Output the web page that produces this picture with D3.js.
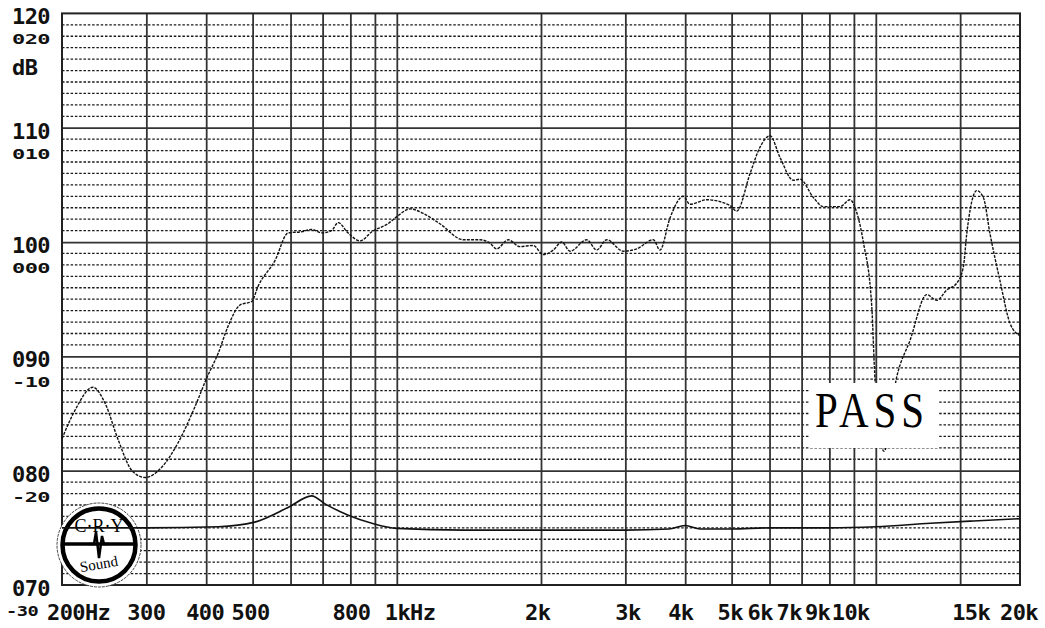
<!DOCTYPE html>
<html>
<head>
<meta charset="utf-8">
<title>Frequency Response</title>
<script src="https://cdn.jsdelivr.net/npm/d3@7"></script>
<style>
  body { margin: 0; background: #fff; }
  svg { display: block; }
  .lbl { font-family: "DejaVu Sans Mono", monospace; font-weight: bold; font-size: 22px; letter-spacing: -0.6px; fill: #111; }
  .grid line { stroke: #333; }
  .grid path { display: none; }
</style>
</head>
<body>
<svg id="chart" width="1045" height="628"></svg>
<script>
// response curve (Hz, dB)
const respFreq = [200, 213, 232, 246, 262, 280, 298, 323, 349, 379, 401, 424, 444, 471, 498, 513, 557, 593,
  633, 664, 697, 731, 754, 791, 838, 887, 958, 999, 1066, 1136, 1230, 1377, 1492, 1565, 1616, 1709, 1808,
  1927, 2022, 2122, 2210, 2300, 2492, 2614, 2744, 2970, 3168, 3432, 3544, 3718, 3964, 4094, 4436, 4960,
  5124, 5464, 5732, 6014, 6310, 6726, 6946, 7406, 7770, 8420, 8834, 9122, 9418, 9806, 9964, 10400, 11058,
  11788, 12776, 13400, 14062, 14756, 15230, 15480, 16244, 16768, 17318, 18168, 19060, 20000];
const respDb = [82.8, 85.3, 87.3, 85.9, 82.7, 80.0, 79.4, 80.3, 82.4, 85.6, 88.1, 90.3, 92.6, 94.5, 94.8, 96.1,
  98.4, 100.8, 100.9, 101.1, 100.8, 101.0, 101.7, 100.8, 100.1, 100.9, 101.6, 102.2, 102.9, 102.5, 101.6,
  100.2, 100.2, 99.9, 99.4, 100.2, 99.6, 99.7, 98.9, 99.3, 100.0, 99.2, 100.2, 99.3, 100.2, 99.2, 99.4,
  100.2, 99.3, 102.1, 104.0, 103.3, 103.7, 103.2, 102.7, 106.0, 108.3, 109.3, 107.4, 105.4, 105.5, 103.9,
  103.1, 103.1, 103.7, 102.6, 100.0, 94.4, 87.9, 81.7, 88.2, 91.4, 95.4, 94.9, 95.8, 96.4, 97.8, 100.7,
  104.5, 103.9, 100.7, 96.6, 92.9, 91.8];

// lower (distortion) curve
const distFreq = [200, 300, 424, 505, 594, 664, 708, 792, 887, 1000, 1380, 2000, 3000, 3700, 4000, 4300,
  5000, 6000, 8000, 10000, 13000, 16000, 20000];
const distDb = [75.0, 75.0, 75.1, 75.5, 76.8, 77.8, 77.1, 76.1, 75.4, 74.95, 74.8, 74.8, 74.8, 74.9, 75.2,
  74.9, 74.9, 75.0, 75.0, 75.1, 75.4, 75.6, 75.8];

// grid / ticks
const gridFreqs = [300, 400, 500, 600, 700, 800, 900, 1000, 2000, 3000, 4000, 5000, 6000, 7000, 8000, 9000, 10000, 15000];
const xTickFreqs = [200, 300, 400, 500, 800, 1000, 2000, 3000, 4000, 5000, 6000, 7000, 9000, 10000, 15000, 20000];
const xTickLabels = ["200Hz", "300", "400", "500", "800", "1kHz", "2k", "3k", "4k", "5k", "6k", "7k", "9k", "10k", "15k", "20k"];
const yTickValues = [120, 110, 100, 90, 80, 70];
const yTickLabels = ["120", "110", "100", "090", "080", "070"];
const ySubLabels = ["020", "010", "000", "-10", "-20", "-30"];

const pLeft = 62, pRight = 1020, pTop = 13.4, pBottom = 585;
const svg = d3.select("#chart");
const x = d3.scaleLog().domain([200, 20000]).range([pLeft, pRight]);
const y = d3.scaleLinear().domain([70, 120]).range([pBottom, pTop]);

svg.append("rect").attr("width", 1045).attr("height", 628).attr("fill", "#fff");

// 1 dB dotted lines
svg.append("g").selectAll("line")
  .data(d3.range(71, 120).filter(d => d % 10 !== 0))
  .join("line")
  .attr("x1", pLeft).attr("x2", pRight)
  .attr("y1", d => y(d)).attr("y2", d => y(d))
  .attr("stroke", "#1a1a1a").attr("stroke-width", 1.3)
  .attr("stroke-dasharray", "2.5,1.8");

// major grid via axes
svg.append("g").attr("class", "grid")
  .attr("transform", `translate(0,${pBottom})`)
  .call(d3.axisBottom(x).tickValues(gridFreqs).tickSize(-(pBottom - pTop)).tickFormat(""))
  .selectAll("line").attr("stroke-width", 1.8);
svg.append("g").attr("class", "grid")
  .attr("transform", `translate(${pLeft},0)`)
  .call(d3.axisLeft(y).tickValues([80, 90, 100, 110]).tickSize(-(pRight - pLeft)).tickFormat(""))
  .selectAll("line").attr("stroke-width", 1.8);

svg.append("rect")
  .attr("x", pLeft).attr("y", pTop).attr("width", pRight - pLeft).attr("height", pBottom - pTop)
  .attr("fill", "none").attr("stroke", "#222").attr("stroke-width", 2);

// logo
const logo = svg.append("g").attr("transform", "translate(99,545)");
logo.append("circle").attr("r", 42).attr("fill", "#fff").attr("stroke", "#444").attr("stroke-width", 1)
  .attr("stroke-dasharray", "3,1");
logo.append("circle").attr("r", 36.5).attr("fill", "none").attr("stroke", "#000").attr("stroke-width", 4.5);
logo.append("line").attr("x1", -35).attr("x2", 35).attr("y1", -1).attr("y2", -1)
  .attr("stroke", "#000").attr("stroke-width", 3.5);
logo.append("path").attr("d", "M-10,-1 L-5,-1 L-3,-13 L0,13 L3,-9 L5,-1 L10,-1")
  .attr("fill", "none").attr("stroke", "#000").attr("stroke-width", 2.5);
logo.append("text").attr("x", 0).attr("y", -13).attr("text-anchor", "middle")
  .attr("font-family", "Liberation Serif, serif").attr("font-size", 18)
  .text("C·R·Y");
logo.append("text").attr("x", 0).attr("y", 24).attr("text-anchor", "middle")
  .attr("transform", "rotate(-10,0,20)")
  .attr("font-family", "Liberation Serif, serif").attr("font-size", 15)
  .text("Sound");

const line = d3.line().x(d => x(d[0])).y(d => y(d[1])).curve(d3.curveMonotoneX);

svg.append("path")
  .datum(d3.zip(distFreq, distDb))
  .attr("d", line)
  .attr("fill", "none").attr("stroke", "#111").attr("stroke-width", 1.6);

svg.append("path")
  .datum(d3.zip(respFreq, respDb))
  .attr("d", line)
  .attr("fill", "none").attr("stroke", "#111").attr("stroke-width", 1.4)
  .attr("stroke-dasharray", "3,1.2");

// PASS stamp
svg.append("rect").attr("x", 810).attr("y", 383).attr("width", 128).attr("height", 65).attr("fill", "#fff");
svg.append("text")
  .attr("transform", "translate(815,427) scale(0.82,1)")
  .attr("font-family", "Liberation Serif, serif").attr("font-size", 50)
  .attr("letter-spacing", 6)
  .text("PASS");

// y labels: main value plus a squashed secondary reading beneath it
yTickValues.forEach((v, i) => {
  svg.append("text").attr("class", "lbl").attr("x", 12).attr("y", y(v) + 11).text(yTickLabels[i]);
  svg.append("text").attr("class", "lbl")
    .attr("transform", `translate(${v === 70 ? 6 : 12},${y(v) + 31}) scale(${v === 70 ? 0.85 : 1},0.6)`)
    .text(ySubLabels[i]);
});
svg.append("text").attr("class", "lbl").attr("x", 12).attr("y", 75).text("dB");

// x labels
const xNudge = [-15, -19, -20, -21, -18, -12, -16, -10, -17, -14, -22, -25, -49, -44, -8, -20];
svg.append("g").selectAll("text")
  .data(xTickFreqs)
  .join("text")
  .attr("class", "lbl")
  .attr("x", (d, i) => x(d) + xNudge[i])
  .attr("y", 620)
  .text((d, i) => xTickLabels[i]);
</script>
</body>
</html>
